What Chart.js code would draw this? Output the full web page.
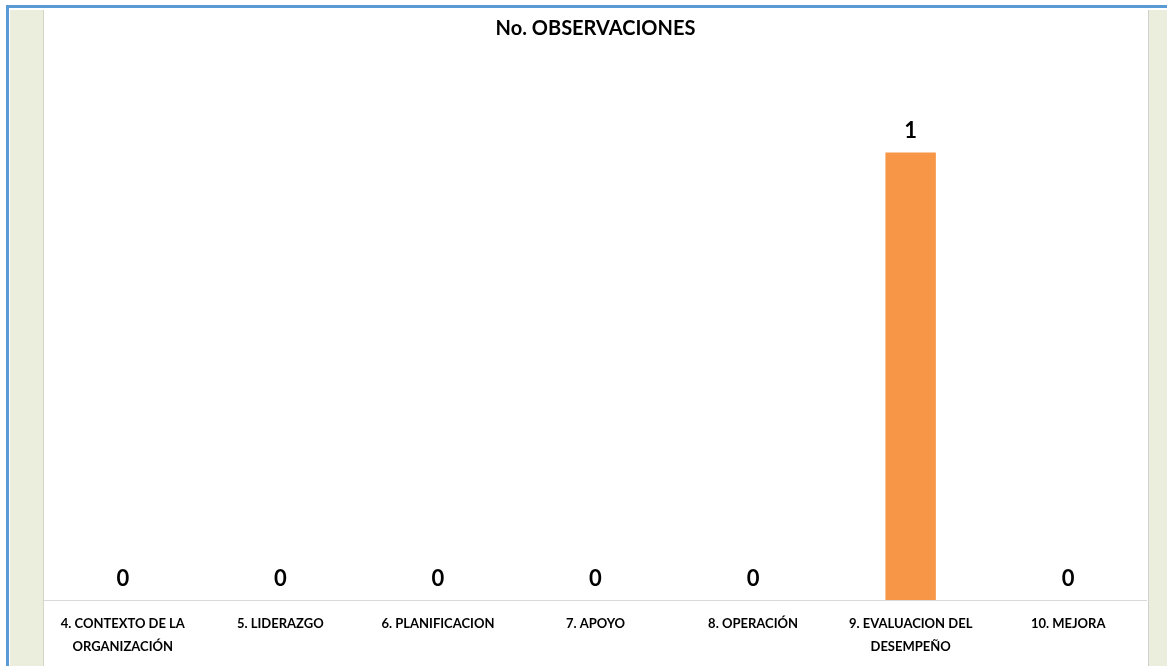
<!DOCTYPE html>
<html>
<head>
<meta charset="utf-8">
<script src="https://cdn.jsdelivr.net/npm/chart.js@4/dist/chart.umd.min.js"></script>
<style>
  body { margin:0; width:1167px; height:666px; overflow:hidden; background:#fff; position:relative; font-family:Lato, "Open Sans", sans-serif; }
  #frame { position:absolute; left:6px; top:5px; width:1170px; height:670px; border-left:3px solid #5B9BD5; border-top:3px solid #5B9BD5; box-sizing:border-box; }
  #leftPanel { position:absolute; left:10px; top:10px; width:33px; height:656px; background:#EBEEDD; border-right:1px solid #D4D7C8; }
  #rightPanel { position:absolute; left:1148px; top:10px; width:19px; height:656px; background:#EBEEDD; border-left:1px solid #D0D0D0; }
  #wrap { position:absolute; left:44px; top:9px; width:1103px; height:657px; }
</style>
</head>
<body>
<div id="frame"></div>
<div id="leftPanel"></div>
<div id="rightPanel"></div>
<div id="wrap"><canvas id="chart"></canvas></div>
<script>
var categories = [
  ["4. CONTEXTO DE LA", "ORGANIZACIÓN"],
  "5. LIDERAZGO",
  "6. PLANIFICACION",
  "7. APOYO",
  "8. OPERACIÓN",
  ["9. EVALUACION DEL", "DESEMPEÑO"],
  "10. MEJORA"
];
var observaciones = [0, 0, 0, 0, 0, 1, 0];
var chartTitle = "No. OBSERVACIONES";

// values written above every bar
var valueLabels = {
  id: 'valueLabels',
  afterDatasetsDraw: function(chart) {
    var ctx = chart.ctx;
    var meta = chart.getDatasetMeta(0);
    ctx.save();
    ctx.font = "bold 22px Lato, 'Open Sans', sans-serif";
    ctx.fillStyle = "#000";
    ctx.textAlign = "center";
    ctx.textBaseline = "middle";
    meta.data.forEach(function(bar, i) {
      ctx.fillText(observaciones[i], bar.x, bar.y - 21);
    });
    ctx.restore();
  }
};

new Chart(document.getElementById("chart"), {
  type: 'bar',
  data: {
    labels: categories,
    datasets: [{
      label: chartTitle,
      data: observaciones,
      backgroundColor: "#F79646",
      borderWidth: 0,
      categoryPercentage: 1,
      barPercentage: 0.32
    }]
  },
  options: {
    responsive: true,
    maintainAspectRatio: false,
    animation: false,
    layout: { padding: 0 },
    plugins: {
      legend: { display: false },
      tooltip: { enabled: false },
      title: {
        display: true,
        text: chartTitle,
        color: "#000",
        font: { family: "Lato, 'Open Sans', sans-serif", size: 20, weight: 'bold' },
        padding: { top: 7.5, bottom: 0 }
      }
    },
    scales: {
      x: {
        grid: { display: false, drawTicks: false },
        border: { display: true, color: "#D9D9D9", width: 1 },
        ticks: {
          color: "#000",
          padding: 12.5,
          maxRotation: 0,
          autoSkip: false,
          font: { family: "Lato, 'Open Sans', sans-serif", size: 13, weight: 'bold', lineHeight: 1.77 }
        },
        afterFit: function(s) { s.height = 66; }
      },
      y: {
        display: false,
        min: 0,
        max: 1.25
      }
    }
  },
  plugins: [valueLabels]
});
</script>
</body>
</html>
